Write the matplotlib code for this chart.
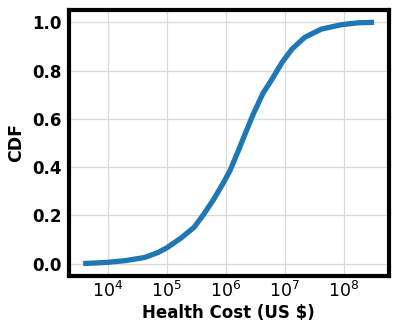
import numpy as np
import matplotlib
matplotlib.use("Agg")
import matplotlib.pyplot as plt

# CDF of health cost
cost = [3.8e3, 6e3, 1e4, 2e4, 4.2e4, 7e4, 1e5, 1.73e5, 2.9e5, 4.2e5, 6.2e5,
        9.1e5, 1.18e6, 1.62e6, 2.24e6, 2.88e6, 4.27e6, 6.2e6, 9.1e6, 1.34e7,
        1.75e7, 2.2e7, 4.2e7, 9.1e7, 1.74e8, 3.3e8]
cdf = [0.0, 0.002, 0.005, 0.012, 0.025, 0.045, 0.065, 0.105, 0.15, 0.203, 0.265,
       0.334, 0.385, 0.465, 0.55, 0.615, 0.705, 0.767, 0.835, 0.890,
       0.916, 0.938, 0.972, 0.990, 0.998, 1.0]
xticks = [1e4, 1e5, 1e6, 1e7, 1e8]

fig, ax = plt.subplots(figsize=(3.99, 3.32), dpi=100)
ax.plot(cost, cdf, color="#1f77b4", linewidth=3.8, solid_capstyle="butt",
        solid_joinstyle="round")
ax.set_xscale("log")
ax.set_xticks(xticks)
ax.minorticks_off()

ax.grid(True, color="#d9d9d9", linewidth=0.9)
ax.set_axisbelow(True)
for s in ax.spines.values():
    s.set_linewidth(3)
    s.set_color("black")

ax.tick_params(axis="both", length=0, pad=5)
ax.tick_params(axis="x", labelsize=12.5, pad=4)
ax.tick_params(axis="y", labelsize=12)
for lab in ax.get_yticklabels():
    lab.set_fontweight("bold")

ax.set_xlabel("Health Cost (US $)", fontsize=12, fontweight="bold", labelpad=2)
ax.set_ylabel("CDF", fontsize=12.5, fontweight="bold", labelpad=5)

fig.subplots_adjust(left=0.172, right=0.974, top=0.969, bottom=0.170)
fig.savefig("out.png", dpi=100)
